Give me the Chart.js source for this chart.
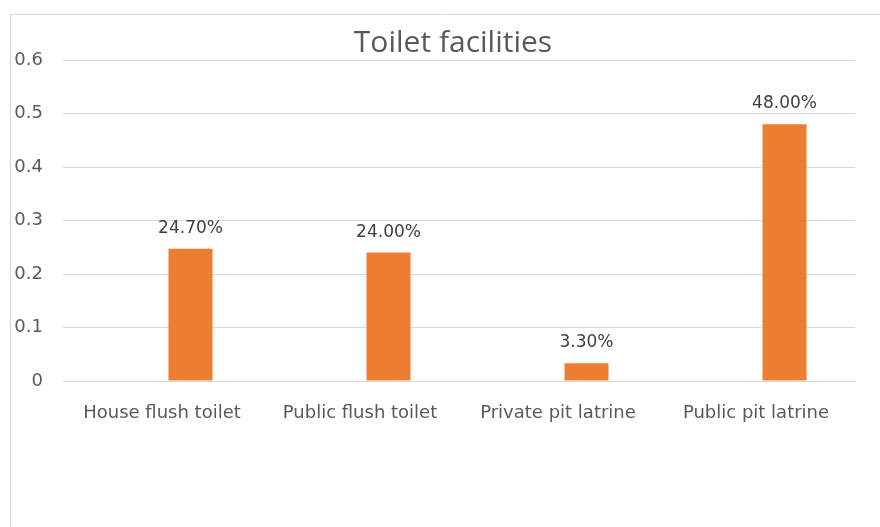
<!DOCTYPE html>
<html>
<head>
<meta charset="utf-8">
<title>Toilet facilities</title>
<script src="https://cdn.jsdelivr.net/npm/chart.js@4/dist/chart.umd.min.js"></script>
<style>
  html, body { margin: 0; padding: 0; background: #ffffff; }
  #wrap { position: relative; width: 880px; height: 527px; }
</style>
</head>
<body>
<div id="wrap"><canvas id="chart" width="880" height="527"></canvas></div>
<script>
// Chart content
const chartTitle = 'Toilet facilities';
const categories = ['House flush toilet', 'Public flush toilet', 'Private pit latrine', 'Public pit latrine'];
const shares = [0.247, 0.24, 0.033, 0.48];
const spacerSeries = [null, null, null, null];
const yTickLabels = ['0', '0.1', '0.2', '0.3', '0.4', '0.5', '0.6'];

const axisText = '#595959';
const labelText = '#404040';
const gridColor = '#d9d9d9';
const barColor = '#ed7d31';
const baseFont = 'DejaVu Sans';

// Outer frame of the chart object
const framePlugin = {
  id: 'frame',
  beforeDraw(chart) {
    const ctx = chart.ctx;
    ctx.save();
    ctx.fillStyle = '#ffffff';
    ctx.fillRect(0, 0, chart.width, chart.height);
    ctx.strokeStyle = gridColor;
    ctx.lineWidth = 1;
    ctx.beginPath();
    ctx.moveTo(10.5, chart.height);
    ctx.lineTo(10.5, 14.5);
    ctx.lineTo(chart.width, 14.5);
    ctx.stroke();
    ctx.restore();
  }
};

// Title text above the plot
const titlePlugin = {
  id: 'titleText',
  afterDraw(chart) {
    const ctx = chart.ctx;
    ctx.save();
    ctx.font = '30px "Open Sans"';
    ctx.fillStyle = axisText;
    ctx.textAlign = 'center';
    ctx.textBaseline = 'alphabetic';
    ctx.fillText(chartTitle, 453, 52);
    ctx.restore();
  }
};

// Percentage labels above each bar
const valueLabelPlugin = {
  id: 'valueLabels',
  afterDatasetsDraw(chart) {
    const ctx = chart.ctx;
    const meta = chart.getDatasetMeta(1);
    const values = chart.data.datasets[1].data;
    ctx.save();
    ctx.font = '17px "' + baseFont + '"';
    ctx.fillStyle = labelText;
    ctx.textAlign = 'center';
    ctx.textBaseline = 'alphabetic';
    meta.data.forEach((bar, i) => {
      const v = values[i];
      if (v == null) return;
      ctx.fillText((v * 100).toFixed(2) + '%', bar.x, bar.y - 16);
    });
    ctx.restore();
  }
};

new Chart(document.getElementById('chart'), {
  type: 'bar',
  data: {
    labels: categories,
    datasets: [
      { label: '', data: spacerSeries, backgroundColor: 'rgba(0,0,0,0)' },
      { label: chartTitle, data: shares, backgroundColor: barColor }
    ]
  },
  options: {
    responsive: false,
    animation: false,
    categoryPercentage: 0.576,
    barPercentage: 0.772,
    layout: { padding: { top: 60, right: 25, bottom: 0, left: 0 } },
    plugins: {
      legend: { display: false },
      title: { display: false },
      tooltip: { enabled: false }
    },
    scales: {
      x: {
        grid: { display: false },
        border: { display: false },
        ticks: {
          color: axisText,
          font: { family: baseFont, size: 18 },
          padding: 14,
          maxRotation: 0,
          autoSkip: false
        },
        afterFit(scale) { scale.height = 146; }
      },
      y: {
        min: 0,
        max: 0.6,
        grid: { color: gridColor, lineWidth: 1, drawTicks: false },
        border: { display: false },
        ticks: {
          stepSize: 0.1,
          color: axisText,
          font: { family: baseFont, size: 18 },
          padding: 20,
          callback: (value, index) => yTickLabels[index]
        },
        afterFit(scale) { scale.width = 63; }
      }
    }
  },
  plugins: [framePlugin, titlePlugin, valueLabelPlugin]
});
</script>
</body>
</html>
